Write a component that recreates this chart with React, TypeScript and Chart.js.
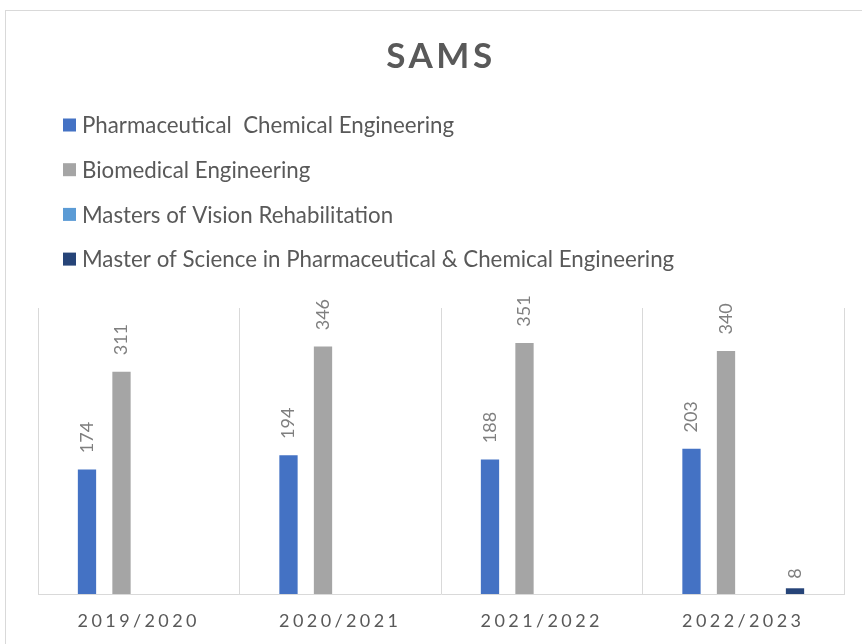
import React, { useEffect, useRef } from "react";
import { Chart, registerables } from "chart.js";

Chart.register(...registerables);

const title = "SAMS";
const categories = ["2019/2020", "2020/2021", "2021/2022", "2022/2023"];
const seriesNames = [
  "Pharmaceutical  Chemical Engineering",
  "Biomedical Engineering",
  "Masters of Vision Rehabilitation",
  "Master of Science in Pharmaceutical & Chemical Engineering",
];
const pharmaChem = [174, 194, 188, 203];
const biomedical = [311, 346, 351, 340];
const visionRehab: (number | null)[] = [null, null, null, null];
const mscPharmaChem: (number | null)[] = [null, null, null, 8];
const seriesColors = ["#4472C4", "#A5A5A5", "#5B9BD5", "#264478"];
const yMax = 400;

const FONT = "Lato, 'Open Sans', sans-serif";

const overlayPlugin = {
  id: "overlay",
  beforeDraw(chart: any) {
    const ctx = chart.ctx;
    ctx.letterSpacing = "3.4px";
  },
  afterDatasetsDraw(chart: any) {
    const ctx = chart.ctx;
    ctx.save();
    ctx.letterSpacing = "0px";
    ctx.fillStyle = "#7F7F7F";
    ctx.font = `18px ${FONT}`;
    ctx.textAlign = "left";
    ctx.textBaseline = "middle";
    chart.data.datasets.forEach((ds: any, i: number) => {
      const meta = chart.getDatasetMeta(i);
      meta.data.forEach((el: any, j: number) => {
        const v = ds.data[j];
        if (v === null || v === undefined) return;
        const txt = String(v);
        const w = ctx.measureText(txt).width;
        const gap = 6 + 0.33 * w;
        ctx.save();
        ctx.translate(el.x, el.y - gap);
        ctx.rotate(-Math.PI / 2);
        ctx.fillText(txt, 0, 0);
        ctx.restore();
      });
    });
    ctx.restore();
  },
  afterDraw(chart: any) {
    const ctx = chart.ctx;
    ctx.save();
    // title
    ctx.letterSpacing = "3.5px";
    ctx.fillStyle = "#595959";
    ctx.font = `bold 35px ${FONT}`;
    ctx.textAlign = "center";
    ctx.textBaseline = "middle";
    ctx.fillText(title, 441, 57);
    // legend
    ctx.letterSpacing = "0px";
    ctx.font = `22.3px ${FONT}`;
    ctx.textAlign = "left";
    chart.data.datasets.forEach((ds: any, i: number) => {
      const cy = 125 + i * 44.7;
      ctx.fillStyle = ds.backgroundColor;
      ctx.fillRect(63, cy - 6.5, 13, 13);
      ctx.fillStyle = "#595959";
      ctx.fillText(ds.label, 82, cy + 1);
    });
    ctx.restore();
  },
};

export default function App() {
  const ref = useRef<HTMLCanvasElement | null>(null);
  useEffect(() => {
    if (!ref.current) return;
    const seriesData = [pharmaChem, biomedical, visionRehab, mscPharmaChem];
    const chart = new Chart(ref.current, {
      type: "bar",
      data: {
        labels: categories,
        datasets: seriesNames.map((name, i) => ({
          label: name,
          data: seriesData[i],
          backgroundColor: seriesColors[i],
          categoryPercentage: 0.685,
          barPercentage: 0.53,
        })),
      },
      options: {
        responsive: false,
        animation: false,
        layout: { padding: { left: 38, right: 18, top: 308, bottom: 14 } },
        plugins: {
          legend: { display: false },
          title: { display: false },
          tooltip: { enabled: false },
        },
        scales: {
          x: {
            grid: { color: "#D9D9D9", lineWidth: 1, drawTicks: false, offset: true },
            border: { color: "#D9D9D9", width: 1 },
            ticks: {
              color: "#595959",
              font: { family: FONT, size: 18 },
              padding: 16,
            },
            afterFit: (scale: any) => {
              scale.height = 36;
            },
          },
          y: {
            display: false,
            min: 0,
            max: yMax,
          },
        },
      },
      plugins: [overlayPlugin],
    });
    return () => chart.destroy();
  }, []);
  return (
    <div
      style={{
        position: "fixed",
        left: 0,
        top: 0,
        width: 862,
        height: 644,
        overflow: "hidden",
        background: "#fff",
      }}
    >
      <div
        style={{
          position: "absolute",
          left: 5,
          top: 10,
          width: 900,
          height: 700,
          border: "1px solid #D9D9D9",
        }}
      />
      <canvas
        ref={ref}
        width={862}
        height={644}
        style={{ position: "absolute", left: 0, top: 0 }}
      />
    </div>
  );
}
